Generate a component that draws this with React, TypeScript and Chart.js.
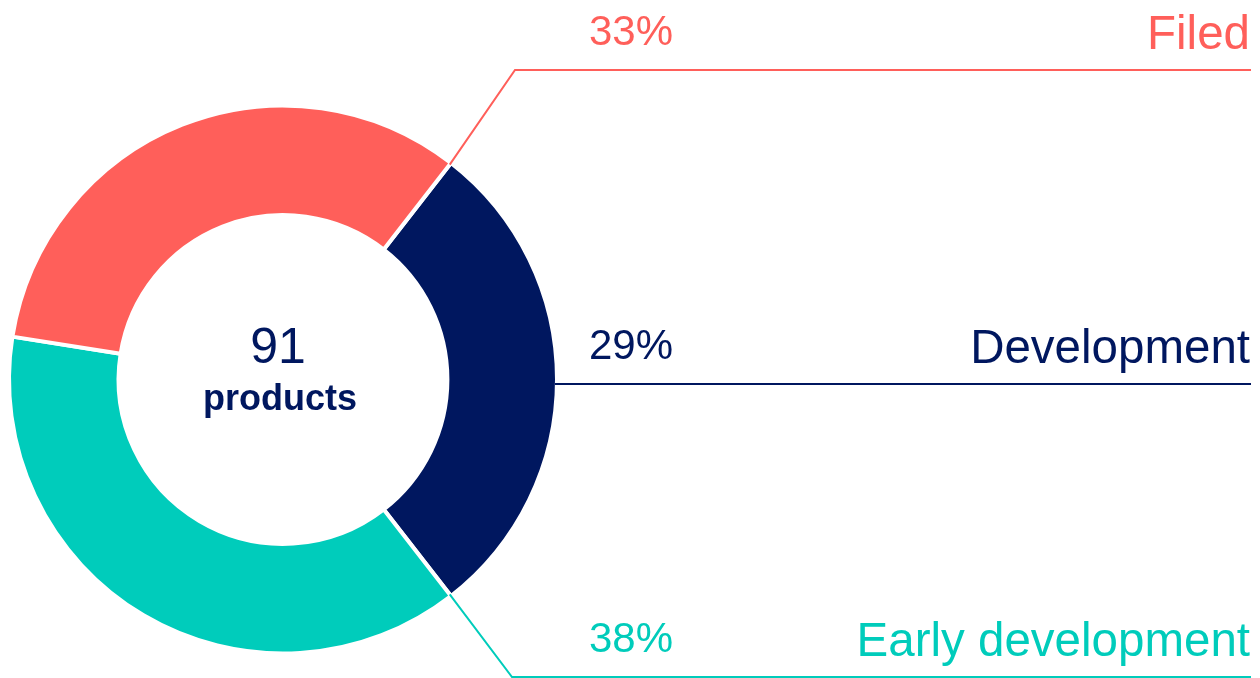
import React, { useEffect, useRef } from 'react';
import { Chart, registerables } from 'chart.js';

Chart.register(...registerables);

const categories = ['Development', 'Early development', 'Filed'];
const shares = [29, 38, 33];
const totalProducts = 91;
const centerCaption = 'products';
const colors = ['#00175F', '#00CCBB', '#FF5F5A'];

const FONT = '"Liberation Sans", Arial, Helvetica, sans-serif';

export default function App() {
  const ref = useRef<HTMLCanvasElement>(null);

  useEffect(() => {
    if (!ref.current) return;
    const total = shares.reduce((a, b) => a + b, 0);
    const firstSweep = (shares[0] / total) * 360;

    // annotation layout (positions only)
    const layout = [
      { anchor: 'mid', lineY: 384, elbowX: 0 },
      { anchor: 'start', lineY: 677, elbowX: 512 },
      { anchor: 'end', lineY: 70, elbowX: 515 },
    ];

    const annotations = {
      id: 'annotations',
      afterDraw(chart: any) {
        const ctx = chart.ctx as CanvasRenderingContext2D;
        const arcs = chart.getDatasetMeta(0).data;
        ctx.save();
        arcs.forEach((arc: any, i: number) => {
          const p = arc.getProps(['x', 'y', 'startAngle', 'endAngle', 'outerRadius'], true);
          const L = layout[i];
          const a =
            L.anchor === 'start' ? p.startAngle : L.anchor === 'end' ? p.endAngle : (p.startAngle + p.endAngle) / 2;
          const sx = p.x + (p.outerRadius - 2) * Math.cos(a);
          const sy = p.y + (p.outerRadius - 2) * Math.sin(a);
          ctx.strokeStyle = colors[i];
          ctx.lineWidth = 2;
          ctx.beginPath();
          if (L.anchor === 'mid') {
            ctx.moveTo(sx, L.lineY);
          } else {
            ctx.moveTo(sx, sy);
            ctx.lineTo(L.elbowX, L.lineY);
          }
          ctx.lineTo(1251, L.lineY);
          ctx.stroke();

          const pct = Math.round((shares[i] / total) * 100) + '%';
          ctx.fillStyle = colors[i];
          ctx.textBaseline = 'alphabetic';
          ctx.textAlign = 'left';
          ctx.font = `42px ${FONT}`;
          ctx.fillText(pct, 589, L.lineY - 25);
          ctx.textAlign = 'right';
          ctx.font = `47.5px ${FONT}`;
          ctx.fillText(categories[i], 1250, L.lineY - 21);
        });

        const c = arcs[0].getProps(['x', 'y'], true);
        ctx.fillStyle = colors[0];
        ctx.textAlign = 'center';
        ctx.font = `50px ${FONT}`;
        ctx.fillText(String(totalProducts), c.x - 5, 363);
        ctx.font = `bold 36px ${FONT}`;
        ctx.fillText(centerCaption, c.x - 3, 410);
        ctx.restore();
      },
    };

    const chart = new Chart(ref.current, {
      type: 'doughnut',
      data: {
        labels: categories,
        datasets: [
          {
            data: shares,
            backgroundColor: colors,
            borderColor: '#ffffff',
            borderWidth: 4,
            hoverOffset: 0,
          },
        ],
      },
      options: {
        responsive: false,
        animation: false,
        cutout: '60%',
        rotation: 90 - firstSweep / 2,
        layout: { padding: { left: 7, right: 701, top: 103.5, bottom: 22.5 } },
        plugins: {
          legend: { display: false },
          tooltip: { enabled: false },
        },
      },
      plugins: [annotations],
    });
    return () => chart.destroy();
  }, []);

  return (
    <div style={{ position: 'absolute', left: 0, top: 0, width: 1260, height: 678, background: '#fff' }}>
      <canvas ref={ref} width={1260} height={678} style={{ display: 'block' }} />
    </div>
  );
}
